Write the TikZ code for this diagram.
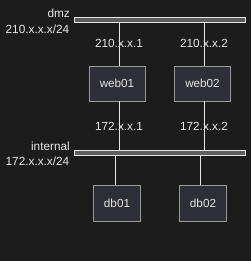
\documentclass[tikz,border=0pt]{standalone}
\usepackage{fontspec}
\setmainfont{Liberation Sans}
\definecolor{bg}{HTML}{1C1C1C}
\definecolor{fg}{HTML}{E6E6E6}
\definecolor{barfill}{HTML}{5E5E5E}
\definecolor{boxfill}{HTML}{2E2E36}
\definecolor{boxline}{HTML}{9A9A9A}
\begin{document}
\begin{tikzpicture}[x=1pt,y=-1pt,
  netbar/.style={draw=fg,fill=barfill,line width=0.8pt},
  hostbox/.style={draw=boxline,fill=boxfill,line width=0.6pt,minimum width=56pt,minimum height=35pt,inner sep=0pt,font=\fontsize{11.7}{13}\selectfont,text=fg},
  dbbox/.style={hostbox,minimum width=47pt,minimum height=36pt},
  lbl/.style={font=\fontsize{11.8}{13}\selectfont,text=fg,inner sep=0pt},
  wire/.style={draw=fg,line width=0.6pt}]
\fill[bg] (0,0) rectangle (251,261);
\useasboundingbox (0,0) rectangle (251,261);
% networks
\draw[netbar] (74,17.5) rectangle (245.5,22);
\draw[netbar] (74,150.5) rectangle (245.5,155.5);
\coordinate (dmzA) at (119,22);
\coordinate (dmzB) at (204,22);
\coordinate (intA) at (119,150.5);
\coordinate (intB) at (204,150.5);
\coordinate (intC) at (115,155.5);
\coordinate (intD) at (200,155.5);
\node[lbl,anchor=east] (dmz) at (70,13) {dmz};
\node[lbl,anchor=east] (dmznet) at (69.5,29) {210.x.x.x/24};
\node[lbl,anchor=east] (int) at (70,146) {internal};
\node[lbl,anchor=east] (intnet) at (69.5,161.5) {172.x.x.x/24};
% hosts
\node[hostbox] (web01) at (117,83.5) {web01};
\node[hostbox] (web02) at (202.5,83.5) {web02};
\node[dbbox] (db01) at (117,203) {db01};
\node[dbbox] (db02) at (203,203) {db02};
% wires
\draw[wire] (dmzA) -- (web01.north -| dmzA);
\draw[wire] (dmzB) -- (web02.north -| dmzB);
\draw[wire] (web01.south -| intA) -- (intA);
\draw[wire] (web02.south -| intB) -- (intB);
\draw[wire] (intC) -- (db01.north -| intC);
\draw[wire] (intD) -- (db02.north -| intD);
% address labels
\node[lbl] (a1) at (119,43.5) {210.x.x.1};
\node[lbl] (a2) at (204,43.5) {210.x.x.2};
\node[lbl] (b1) at (119,126.5) {172.x.x.1};
\node[lbl] (b2) at (204,126.5) {172.x.x.2};
\end{tikzpicture}
\end{document}
